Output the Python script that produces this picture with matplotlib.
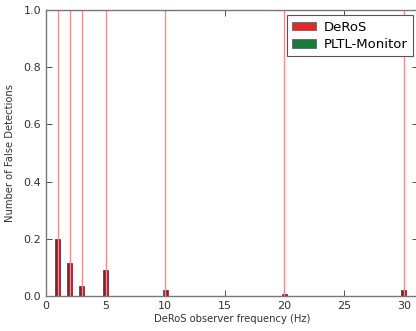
import matplotlib
matplotlib.use("Agg")
import matplotlib.pyplot as plt
import numpy as np
from matplotlib.patches import Patch

freqs = [1, 2, 3, 5, 10, 20, 30]
deros_vals = [0.20, 0.115, 0.035, 0.092, 0.022, 0.008, 0.021]
deros_err = [1.0, 1.0, 1.0, 1.0, 1.0, 1.0, 1.0]
pltl_vals = [0, 0, 0, 0, 0, 0, 0]

fig = plt.figure(figsize=(4.16, 3.31), dpi=100)
ax = fig.add_axes([46/416, 35/331, 372/416, 286/331])

x = np.array(freqs, dtype=float)
ax.bar(x, deros_vals, width=0.42, color='#8e1b2b', edgecolor='#7a1525', linewidth=0.5,
       yerr=deros_err, ecolor='#eb8f8f', error_kw=dict(elinewidth=1.0, capsize=0),
       label='DeRoS', zorder=2)
ax.bar(x, pltl_vals, width=0.42, color='#1a7a3a', label='PLTL-Monitor', zorder=3)

ax.set_xlim(0, 31.2)
ax.set_ylim(0, 1.0)
ax.set_xticks([0, 5, 10, 15, 20, 25, 30])
ax.set_yticks([0.0, 0.2, 0.4, 0.6, 0.8, 1.0])
ax.set_yticklabels(['0.0', '0.2', '0.4', '0.6', '0.8', '1.0'])
ax.tick_params(direction='in', top=True, right=True, labelsize=8, colors='#333333',
               length=4, width=0.6)
for s in ax.spines.values():
    s.set_color('#777777')
    s.set_linewidth(1.0)
ax.set_xlabel('DeRoS observer frequency (Hz)', fontsize=7.2, color='#333333', labelpad=2)
ax.set_ylabel('Number of False Detections', fontsize=7.2, color='#333333', labelpad=6)

handles = [Patch(facecolor='#e8262b', edgecolor='#555555', linewidth=0.5),
           Patch(facecolor='#1a7a3a', edgecolor='#555555', linewidth=0.5)]
leg = ax.legend(handles, ['DeRoS', 'PLTL-Monitor'], loc='upper right', fontsize=9.5,
                fancybox=False, framealpha=1, edgecolor='#555555',
                handlelength=1.8, handleheight=0.6, handletextpad=0.6,
                borderaxespad=0.4, labelspacing=0.35)
leg.get_frame().set_linewidth(0.8)

fig.savefig('out.png', dpi=100)
